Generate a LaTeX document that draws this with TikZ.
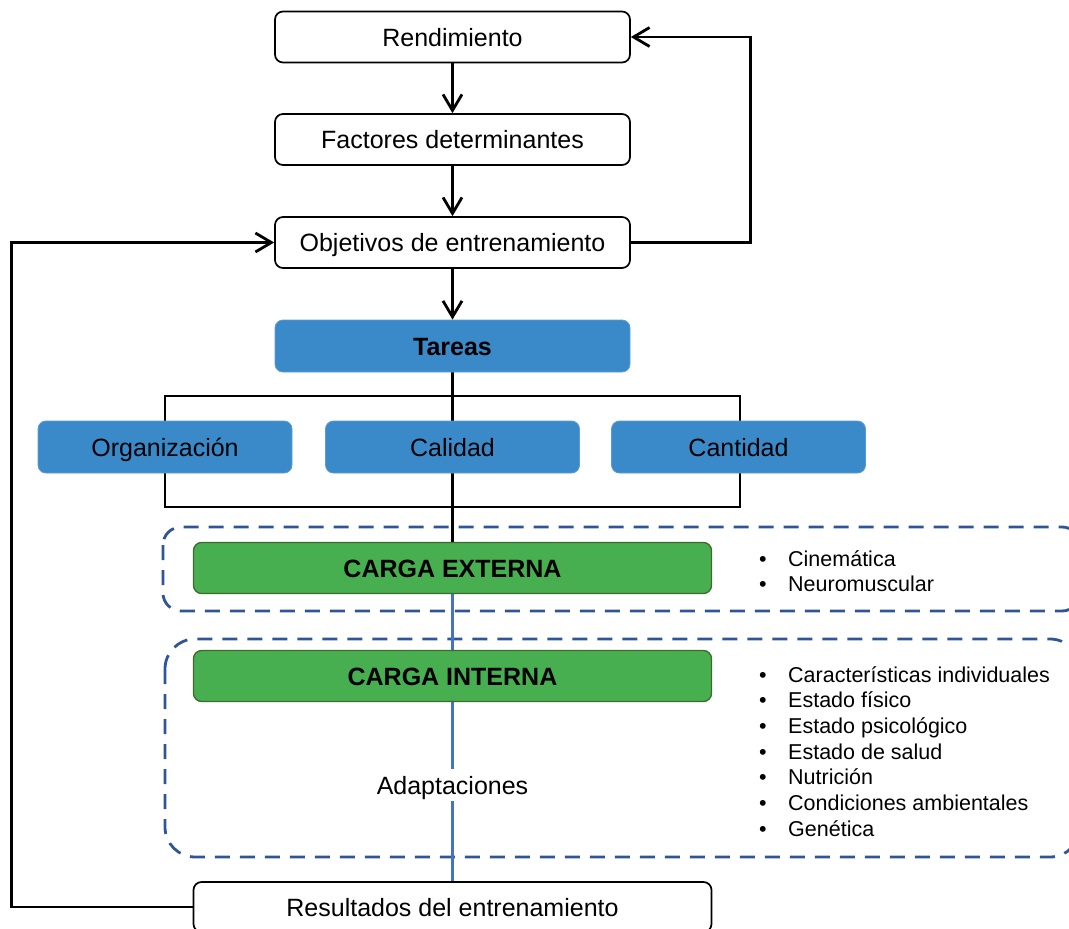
\documentclass[tikz,border=0pt]{standalone}
\usepackage{fontspec}
\setmainfont{Liberation Sans}
\usetikzlibrary{arrows.meta,backgrounds}

\definecolor{taskblue}{HTML}{3A8ACA}
\definecolor{taskedge}{HTML}{5B9BD5}
\definecolor{loadgreen}{HTML}{47AF50}
\definecolor{loadedge}{HTML}{3C6A2B}
\definecolor{dashblue}{HTML}{2F5597}
\definecolor{linkblue}{HTML}{4472C4}

\begin{document}
\begin{tikzpicture}[x=1pt,y=-1pt,
  every node/.style={font=\fontsize{25}{30}\selectfont},
  boxtext/.style={text height=18pt, text depth=0pt},
  whitebox/.style={boxtext, draw=black, line width=1.7pt, fill=white, rounded corners=8pt,
    minimum width=355pt, minimum height=51pt, inner sep=0pt},
  taskbox/.style={boxtext, draw=taskedge, line width=0.8pt, fill=taskblue, rounded corners=8pt,
    minimum width=254pt, minimum height=52pt, inner sep=0pt},
  loadbox/.style={boxtext, draw=loadedge, line width=1.3pt, fill=loadgreen, rounded corners=8pt,
    minimum width=518pt, minimum height=51pt, inner sep=0pt,
    font=\fontsize{25}{30}\selectfont\bfseries},
  group/.style={draw=dashblue, line width=2.8pt, dash pattern=on 15pt off 10pt},
  flowarrow/.style={draw=black, line width=2.8pt, -{Straight Barb[length=16pt,width=19pt]}},
  plainline/.style={draw=black, line width=2.8pt},
  bluelink/.style={draw=linkblue, line width=2.5pt},
  listitem/.style={anchor=base west, inner sep=0pt, font=\fontsize{21.5}{26}\selectfont}
]
\useasboundingbox (0,0) rectangle (1069,929);
\clip (0,0) rectangle (1069,929);

% boxes of the flow
\node[whitebox] (rend) at (452.5,37) {Rendimiento};
\node[whitebox] (fact) at (452.5,139.5) {Factores determinantes};
\node[whitebox] (obj) at (452.5,242.5) {Objetivos de entrenamiento};
\node[taskbox, minimum width=355pt, font=\fontsize{25}{30}\selectfont\bfseries] (tareas) at (452.5,346) {Tareas};
\node[taskbox] (org) at (165,447) {Organización};
\node[taskbox] (cal) at (452.5,447) {Calidad};
\node[taskbox] (cant) at (738.5,447) {Cantidad};
\node[loadbox] (cext) at (452.5,568) {CARGA EXTERNA};
\node[loadbox] (cint) at (452.5,676) {CARGA INTERNA};
\node[boxtext, fill=white, inner sep=7pt] (adapt) at (452.5,785) {Adaptaciones};
\node[whitebox, minimum width=518pt, minimum height=50pt] (res) at (452.5,907) {Resultados del entrenamiento};

% bracket joining the three task dimensions
\coordinate (brtl) at (165,396);
\coordinate (brbr) at (740,507);

% external / internal load groups
\coordinate (g1a) at (163,527);
\coordinate (g1b) at (1080,611);
\coordinate (g2a) at (165,639);
\coordinate (g2b) at (1080,857);

\begin{scope}[on background layer]
  \draw[group, rounded corners=18pt] (g1a) rectangle (g1b);
  \draw[group, rounded corners=30pt] (g2a) rectangle (g2b);
  \draw[plainline] (brtl) rectangle (brbr);
  \draw[plainline] (tareas.south) -- (cext.north);
  \draw[bluelink] (cext.south) -- (cint.north);
  \draw[bluelink] (cint.south) -- (res.north);
\end{scope}

% arrows
\draw[flowarrow] (rend) -- (fact);
\draw[flowarrow] (fact) -- (obj);
\draw[flowarrow] (obj) -- (tareas);
\draw[flowarrow] (obj.east) -- ++(120,0) |- (rend.east);
\draw[flowarrow] (res.west) -- ++(-181.5,0) |- (obj.west);

% factor lists
\foreach \t [count=\i] in {Cinemática, Neuromuscular}
  \node[listitem] (ext\i) at (759,{566+25*(\i-1)}) {\makebox[29pt][l]{•}\t};
\foreach \t [count=\i] in {Características individuales, Estado físico, Estado psicológico,
    Estado de salud, Nutrición, Condiciones ambientales, Genética}
  \node[listitem] (int\i) at (759,{682+25.7*(\i-1)}) {\makebox[29pt][l]{•}\t};
\end{tikzpicture}
\end{document}
